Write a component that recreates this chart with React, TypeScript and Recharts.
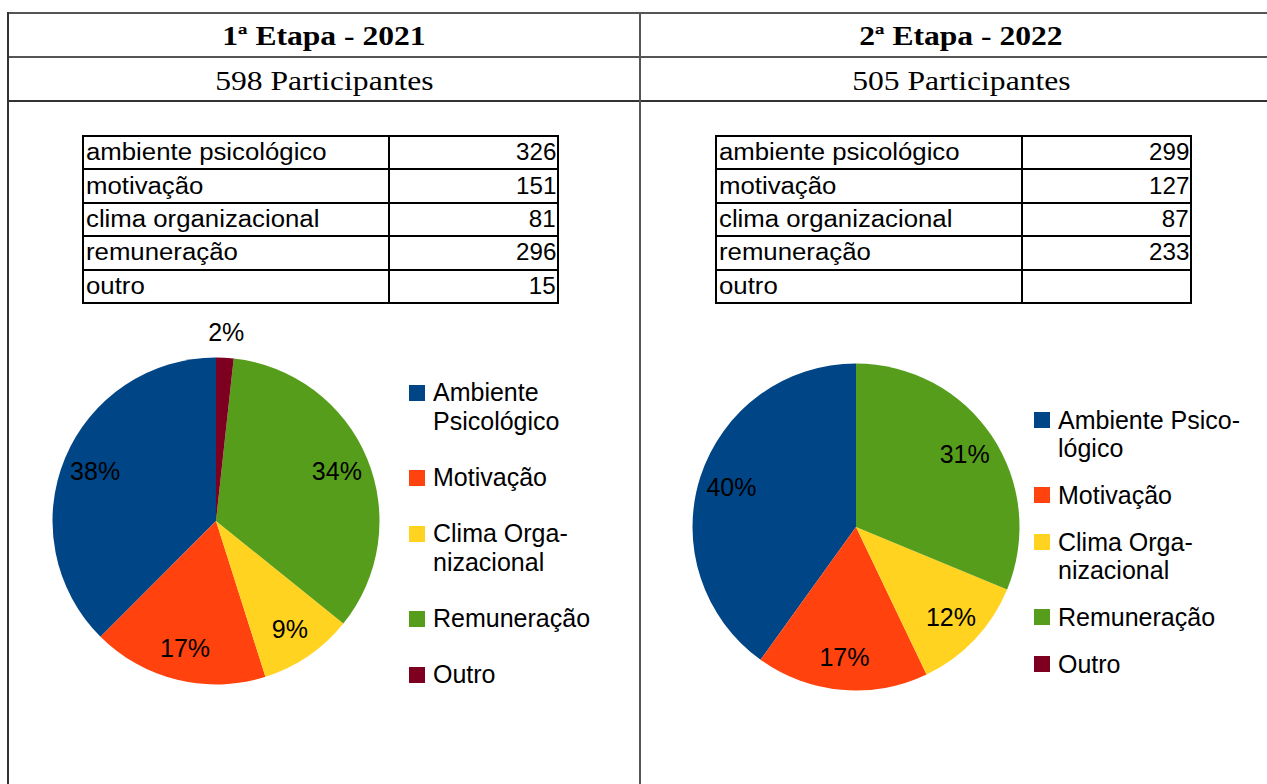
import React from 'react';
import { PieChart, Pie, Cell, Legend } from 'recharts';

const CATEGORIES = ['ambiente psicológico', 'motivação', 'clima organizacional', 'remuneração', 'outro'];
const SERIES_NAMES = ['Ambiente Psicológico', 'Motivação', 'Clima Organizacional', 'Remuneração', 'Outro'];
const VALUES_2021: (number | null)[] = [326, 151, 81, 296, 15];
const VALUES_2022: (number | null)[] = [299, 127, 87, 233, null];
const LEGEND_2021 = [['Ambiente', 'Psicológico'], ['Motivação'], ['Clima Orga-', 'nizacional'], ['Remuneração'], ['Outro']];
const LEGEND_2022 = [['Ambiente Psico-', 'lógico'], ['Motivação'], ['Clima Orga-', 'nizacional'], ['Remuneração'], ['Outro']];
const COLORS = ['#004586', '#ff420e', '#ffd320', '#579d1c', '#7e0021'];

const SANS = '"Liberation Sans", Arial, sans-serif';
const SERIF = '"Liberation Serif", "Times New Roman", serif';
const RADIAN = Math.PI / 180;

const renderLabel = (props: any) => {
  const { cx, cy, midAngle, outerRadius, percent, value } = props;
  if (!value) return null;
  const r = percent < 0.05 ? outerRadius + 26 : outerRadius * 0.8;
  const x = cx + r * Math.cos(-midAngle * RADIAN);
  const y = cy + r * Math.sin(-midAngle * RADIAN);
  return (
    <text x={x} y={y} fill="#000" textAnchor="middle" dominantBaseline="central" fontSize={25} fontFamily={SANS}>
      {`${Math.round(percent * 100)}%`}
    </text>
  );
};

// legend entries keep the series order, colour looked up by name
const makeLegend = (lines: string[][], lineH: number, gap: number) => (props: any) => {
  const payload: any[] = props.payload ?? [];
  const items = SERIES_NAMES.map((name, i) => {
    const hit = payload.find((p) => p.value === name);
    return { name, color: COLORS[i] ?? hit?.color, lines: lines[i] ?? [name] };
  });
  return (
    <div style={{ fontFamily: SANS, fontSize: 25, color: '#000' }}>
      {items.map((it) => (
        <div key={it.name} style={{ position: 'relative', paddingLeft: 24, marginBottom: gap, lineHeight: `${lineH}px` }}>
          <span
            style={{
              position: 'absolute',
              left: 0,
              top: (lineH - 16) / 2,
              width: 16,
              height: 16,
              background: it.color,
            }}
          />
          {it.lines.map((l, j) => (
            <div key={j} style={{ whiteSpace: 'nowrap' }}>{l}</div>
          ))}
        </div>
      ))}
    </div>
  );
};

interface PanelProps {
  left: number;
  width: number;
  title: string;
  participants: string;
  values: (number | null)[];
  legendLines: string[][];
  tableLeft: number;
  cx: number;
  cy: number;
  legendLeft: number;
  legendTop: number;
  lineH: number;
  gap: number;
}

const Panel: React.FC<PanelProps> = (p) => {
  const data = SERIES_NAMES.map((name, i) => ({ name, value: p.values[i] ?? 0 }));
  const headText = (txt: string, bold: boolean) => (
    <span
      style={{
        display: 'inline-block',
        transform: 'scaleX(1.17)',
        fontFamily: SERIF,
        fontSize: 27,
        fontWeight: bold ? 'bold' : 'normal',
      }}
    >
      {txt}
    </span>
  );
  return (
    <>
      <div style={{ position: 'absolute', left: p.left, top: 14, width: p.width, height: 44, display: 'flex', alignItems: 'center', justifyContent: 'center' }}>
        {headText(p.title, true)}
      </div>
      <div style={{ position: 'absolute', left: p.left, top: 59, width: p.width, height: 44, display: 'flex', alignItems: 'center', justifyContent: 'center' }}>
        {headText(p.participants, false)}
      </div>
      <table
        style={{
          position: 'absolute',
          left: p.tableLeft,
          top: 135,
          width: 477,
          borderCollapse: 'collapse',
          fontFamily: SANS,
          fontSize: 23,
        }}
      >
        <tbody>
          {CATEGORIES.map((c, i) => (
            <tr key={c} style={{ height: 33.4 }}>
              <td style={{ border: '2px solid #000', width: 300, padding: '0 2px', lineHeight: '29px' }}>
                <span style={{ display: 'inline-block', transform: 'scaleX(1.12)', transformOrigin: 'left center', whiteSpace: 'nowrap' }}>{c}</span>
              </td>
              <td style={{ border: '2px solid #000', textAlign: 'right', padding: '0 1px', lineHeight: '29px' }}>
                <span style={{ display: 'inline-block', transform: 'scaleX(1.05)', transformOrigin: 'right center' }}>{p.values[i] ?? ''}</span>
              </td>
            </tr>
          ))}
        </tbody>
      </table>
      <div style={{ position: 'absolute', left: p.left, top: 310 }}>
        <PieChart width={p.width} height={420}>
          <Pie
            data={data}
            dataKey="value"
            nameKey="name"
            cx={p.cx}
            cy={p.cy}
            outerRadius={163.5}
            startAngle={90}
            endAngle={450}
            stroke="none"
            label={renderLabel}
            labelLine={false}
            isAnimationActive={false}
          >
            {data.map((d, i) => (
              <Cell key={d.name} fill={COLORS[i]} />
            ))}
          </Pie>
          <Legend
            layout="vertical"
            wrapperStyle={{ position: 'absolute', left: p.legendLeft, top: p.legendTop, width: 240 }}
            content={makeLegend(p.legendLines, p.lineH, p.gap)}
          />
        </PieChart>
      </div>
    </>
  );
};

export default function App() {
  return (
    <div style={{ position: 'fixed', left: 0, top: 0, width: 1267, height: 784, overflow: 'hidden', background: '#fff' }}>
      {/* outer document table lines */}
      <div style={{ position: 'absolute', left: 8, top: 12, width: 1290, height: 2, background: '#555' }} />
      <div style={{ position: 'absolute', left: 8, top: 56, width: 1290, height: 2, background: '#555' }} />
      <div style={{ position: 'absolute', left: 8, top: 100, width: 1290, height: 2, background: '#333' }} />
      <div style={{ position: 'absolute', left: 7, top: 12, width: 2, height: 800, background: '#333' }} />
      <div style={{ position: 'absolute', left: 639, top: 12, width: 2, height: 800, background: '#555' }} />
      <Panel
        left={8}
        width={632}
        title="1ª Etapa - 2021"
        participants="598 Participantes"
        values={VALUES_2021}
        legendLines={LEGEND_2021}
        tableLeft={82}
        cx={203}
        cy={206}
        legendLeft={401}
        legendTop={68}
        lineH={29}
        gap={27}
      />
      <Panel
        left={640}
        width={642}
        title="2ª Etapa - 2022"
        participants="505 Participantes"
        values={VALUES_2022}
        legendLines={LEGEND_2022}
        tableLeft={715}
        cx={211}
        cy={212}
        legendLeft={394}
        legendTop={96}
        lineH={28}
        gap={19}
      />
    </div>
  );
}
